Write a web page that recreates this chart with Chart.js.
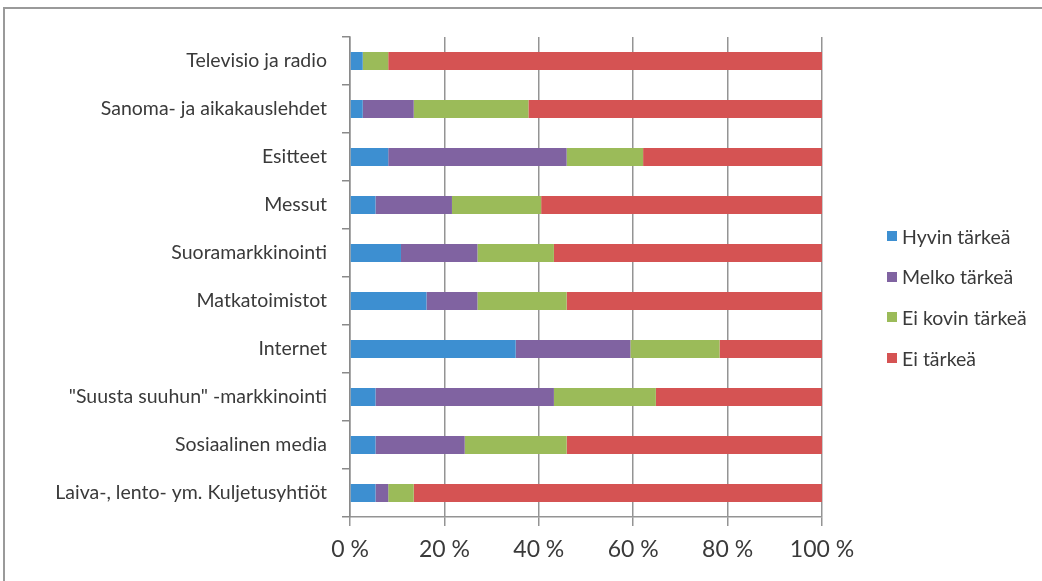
<!DOCTYPE html>
<html lang="fi">
<head>
<meta charset="utf-8">
<title>Markkinointikanavien tärkeys</title>
<script src="https://cdn.jsdelivr.net/npm/chart.js@4/dist/chart.umd.min.js"></script>
<style>
    html, body {
        margin: 0;
        padding: 0;
        background: #ffffff;
        overflow: hidden;
    }
    .frame {
        position: absolute;
        left: 3px;
        top: 7px;
        width: 1100px;
        height: 640px;
        border-top: 2px solid #9a9a9a;
        border-left: 2px solid #9a9a9a;
    }
    .chart-box {
        position: absolute;
        left: 0;
        top: 0;
        width: 1042px;
        height: 581px;
    }
    #legend {
        position: absolute;
        left: 887px;
        top: 226px;
        font-family: Lato, sans-serif;
        font-size: 19.5px;
        color: #3a3a3a;
    }
    #legend .item {
        display: flex;
        align-items: center;
        height: 20px;
        margin-bottom: 20.7px;
        white-space: nowrap;
    }
    #legend .swatch {
        width: 10px;
        height: 10px;
        margin-right: 5px;
    }
</style>
</head>
<body>
<div class="frame"></div>
<div class="chart-box"><canvas id="mediaChart"></canvas></div>
<div id="legend"></div>
<script>
const categories = [
    'Televisio ja radio',
    'Sanoma- ja aikakauslehdet',
    'Esitteet',
    'Messut',
    'Suoramarkkinointi',
    'Matkatoimistot',
    'Internet',
    '"Suusta suuhun" -markkinointi',
    'Sosiaalinen media',
    'Laiva-, lento- ym. Kuljetusyhtiöt'
];

const seriesNames = ['Hyvin tärkeä', 'Melko tärkeä', 'Ei kovin tärkeä', 'Ei tärkeä'];
const seriesColors = ['#3d8fd1', '#8063a1', '#9bbb59', '#d55353'];

// shares of respondents in %, one value per category
const hyvinTarkea = [2.7, 2.7, 8.1, 5.4, 10.8, 16.2, 35.1, 5.4, 5.4, 5.4];
const melkoTarkea = [0, 10.8, 37.8, 16.2, 16.2, 10.8, 24.3, 37.8, 18.9, 2.7];
const eiKovinTarkea = [5.4, 24.3, 16.2, 18.9, 16.2, 18.9, 18.9, 21.6, 21.6, 5.4];
const eiTarkea = [91.9, 62.2, 37.9, 59.5, 56.8, 54.1, 21.7, 35.2, 54.1, 86.5];

const xTicks = [0, 20, 40, 60, 80, 100];

document.addEventListener('DOMContentLoaded', function () {
    const ctx = document.getElementById('mediaChart').getContext('2d');

    const seriesValues = [hyvinTarkea, melkoTarkea, eiKovinTarkea, eiTarkea];

    const mediaData = {
        labels: categories,
        datasets: seriesNames.map(function (name, i) {
            return {
                label: name,
                data: seriesValues[i],
                backgroundColor: seriesColors[i],
                borderWidth: 0,
                categoryPercentage: 1,
                barPercentage: 0.375
            };
        })
    };

    // builds the legend next to the plot from the chart's own legend items
    const htmlLegend = {
        id: 'htmlLegend',
        afterUpdate(chart) {
            const box = document.getElementById('legend');
            box.innerHTML = '';
            const items = chart.options.plugins.legend.labels.generateLabels(chart);
            items.forEach(function (item) {
                const row = document.createElement('div');
                row.className = 'item';
                const swatch = document.createElement('span');
                swatch.className = 'swatch';
                swatch.style.background = item.fillStyle;
                const text = document.createElement('span');
                text.textContent = item.text;
                row.appendChild(swatch);
                row.appendChild(text);
                box.appendChild(row);
            });
        }
    };

    const mediaChart = new Chart(ctx, {
        type: 'bar',
        data: mediaData,
        plugins: [htmlLegend],
        options: {
            indexAxis: 'y',
            responsive: true,
            maintainAspectRatio: false,
            animation: false,
            layout: {
                padding: { top: 37, right: 220, left: 0, bottom: 0 }
            },
            scales: {
                x: {
                    stacked: true,
                    min: 0,
                    max: 100,
                    z: 1,
                    afterBuildTicks: function (scale) {
                        scale.ticks = xTicks.map(function (v) { return { value: v }; });
                    },
                    afterFit: function (scale) {
                        scale.height = 581 - 517;
                    },
                    grid: {
                        color: 'rgba(90, 90, 90, 0.65)',
                        lineWidth: 1.5,
                        tickLength: 9
                    },
                    border: {
                        display: true,
                        color: 'rgba(90, 90, 90, 0.65)',
                        width: 1.5
                    },
                    ticks: {
                        padding: 10,
                        color: '#3a3a3a',
                        font: { family: 'Lato', size: 23 },
                        callback: function (value) {
                            return value + ' %';
                        }
                    }
                },
                y: {
                    stacked: true,
                    afterFit: function (scale) {
                        scale.width = 350;
                    },
                    grid: {
                        drawOnChartArea: false,
                        drawTicks: true,
                        tickLength: 8,
                        color: '#8a8a8a',
                        lineWidth: 1.5
                    },
                    border: {
                        display: true,
                        color: '#8a8a8a',
                        width: 1.5
                    },
                    ticks: {
                        padding: 15,
                        color: '#3a3a3a',
                        font: { family: 'Lato', size: 19.5 }
                    }
                }
            },
            plugins: {
                legend: {
                    display: false
                },
                tooltip: {
                    enabled: false
                }
            }
        }
    });
});
</script>
</body>
</html>
